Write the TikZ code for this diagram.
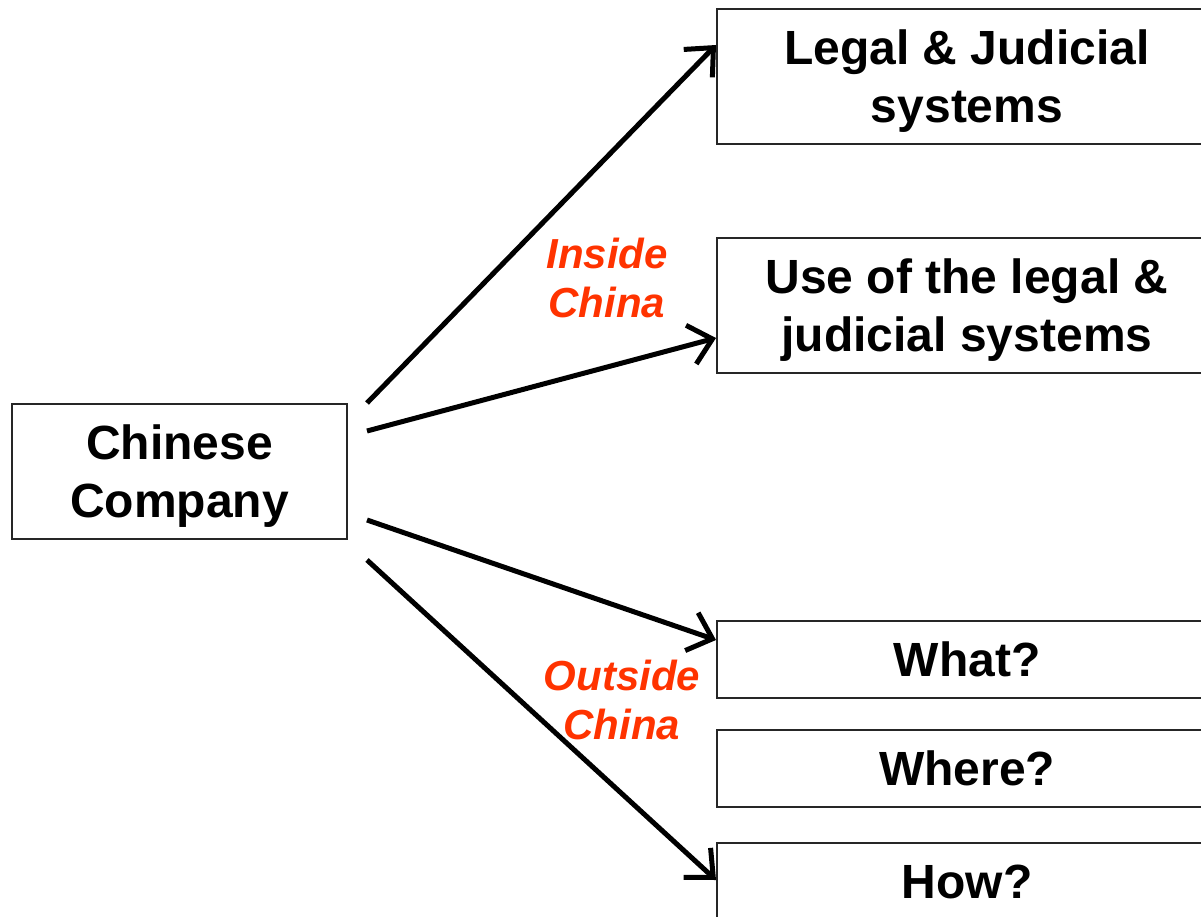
\documentclass[tikz,border=0pt]{standalone}
\usepackage{fontspec}
\setmainfont{Liberation Sans}
\usetikzlibrary{arrows.meta,calc}
\definecolor{lblred}{HTML}{FF3300}
\newcommand{\topstrut}{\rule{0pt}{44pt}}
\begin{document}
\begin{tikzpicture}[x=1pt,y=-1pt,
  box/.style={draw=black!85,line width=2pt,rectangle,inner sep=0pt,align=center,
    font=\fontsize{48}{58}\selectfont\bfseries,text=black},
  conn/.style={line width=5pt,-{Straight Barb[length=22pt,width=40pt,line width=5pt]}},
  lbl/.style={align=center,text=lblred,font=\fontsize{42}{49}\selectfont\bfseries\itshape}]
\useasboundingbox (0,0) rectangle (1201,917);
\clip (0,0) rectangle (1201,917);
\node[box,minimum width=335pt,minimum height=135pt] (cc) at (179.5,471.5) {\topstrut Chinese\\Company};
\node[box,minimum width=500pt,minimum height=135pt,anchor=west] (legal) at (716,76.5) {\topstrut Legal \& Judicial\\systems};
\node[box,minimum width=500pt,minimum height=135pt,anchor=west] (use) at (716,305.5) {\topstrut Use of the legal \&\\judicial systems};
\node[box,minimum width=500pt,minimum height=77pt,anchor=west] (what) at (716,659.5) {What?};
\node[box,minimum width=500pt,minimum height=77pt,anchor=west] (where) at (716,768.5) {Where?};
\node[box,minimum width=500pt,minimum height=77pt,anchor=west] (how) at (716,881.5) {How?};
\coordinate (s1) at (367,403);
\coordinate (s2) at (367,431);
\coordinate (s3) at (367,520);
\coordinate (s4) at (367,560);
\draw[conn] (s1) -- ([yshift=31.5pt]legal.west);
\draw[conn] (s2) -- ([yshift=-32.5pt]use.west);
\draw[conn] (s3) -- ([yshift=19.5pt]what.west);
\draw[conn] (s4) -- ([yshift=1.5pt]how.west);
\node[lbl] (inside) at (607,278) {Inside\\China};
\node[lbl] (outside) at (622,700) {Outside\\China};
\end{tikzpicture}
\end{document}
